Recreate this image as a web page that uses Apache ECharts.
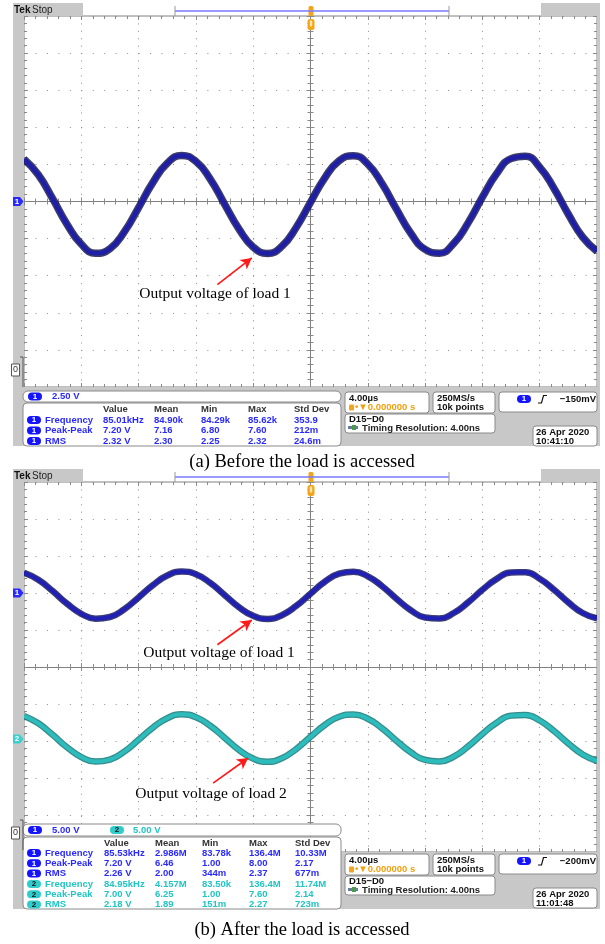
<!DOCTYPE html>
<html><head><meta charset="utf-8">
<script src="https://cdn.jsdelivr.net/npm/echarts@6/dist/echarts.min.js"></script>
<style>html,body{margin:0;padding:0;background:#fff}#c{width:605px;height:944px}</style>
</head><body><div id="c"></div>
<script>
// ---------------- data ----------------
const timeUs = [-20,-19,-18,-17,-16,-15,-14,-13,-12,-11,-10,-9,-8,-7,-6,-5,-4,-3,-2,-1,0,1,2,3,4,5,6,7,8,9,10,11,12,13,14,15,16,17,18,19,20];
// (a) before load: channel 1, volts (2.50 V/div)
const beforeLoad1 = [2.85,1.80,0.19,-1.53,-2.88,-3.49,-3.18,-2.05,-0.41,1.29,2.58,3.10,2.70,1.51,-0.17,-1.84,-3.07,-3.50,-3.02,-1.75,-0.06,1.60,2.75,3.09,2.52,1.19,-0.52,-2.14,-3.23,-3.48,-2.82,-1.44,0.29,1.88,2.89,3.05,2.31,0.88,-0.86,-2.40,-3.35];
// (b) after load: channel 1 and channel 2, volts (5.00 V/div)
const afterLoad1 = [2.73,1.79,0.26,-1.44,-2.81,-3.47,-3.24,-2.19,-0.60,1.07,2.36,2.90,2.53,1.37,-0.26,-1.90,-3.09,-3.50,-3.00,-1.75,-0.09,1.52,2.61,2.88,2.26,0.92,-0.77,-2.32,-3.31,-3.44,-2.70,-1.27,0.43,1.91,2.78,2.79,1.92,0.43,-1.27,-2.70,-3.44];
const afterLoad2 = [3.39,2.39,0.83,-0.84,-2.17,-2.78,-2.51,-1.43,0.16,1.82,3.08,3.60,3.22,2.06,0.44,-1.19,-2.38,-2.80,-2.33,-1.09,0.56,2.16,3.28,3.59,3.01,1.71,0.04,-1.53,-2.56,-2.77,-2.10,-0.73,0.95,2.48,3.43,3.53,2.77,1.34,-0.34,-1.82,-2.68];

const measHeader = ['Value','Mean','Min','Max','Std Dev'];
const measLabels = ['Frequency','Peak-Peak','RMS'];
const measA1 = [['85.01kHz','84.90k','84.29k','85.62k','353.9'],['7.20 V','7.16','6.80','7.60','212m'],['2.32 V','2.30','2.25','2.32','24.6m']];
const measB1 = [['85.53kHz','2.986M','83.78k','136.4M','10.33M'],['7.20 V','6.46','1.00','8.00','2.17'],['2.26 V','2.00','344m','2.37','677m']];
const measB2 = [['84.95kHz','4.157M','83.50k','136.4M','11.74M'],['7.00 V','6.25','1.00','7.60','2.14'],['2.18 V','1.89','151m','2.27','723m']];
const scaleA = ['2.50 V'];
const scaleB = ['5.00 V','5.00 V'];
const timebase = '4.00\u00b5s';
const sampleRate = ['250MS/s','10k points'];
const trigA = '\u2212150mV', trigB = '\u2212200mV';
const dateA = ['26 Apr 2020','10:41:10'];
const dateB = ['26 Apr 2020','11:01:48'];
const captionA = '(a) Before the load is accessed';
const captionB = '(b) After the load is accessed';
const noteLoad1 = 'Output voltage of load 1';
const noteLoad2 = 'Output voltage of load 2';

// ---------------- styles ----------------
const C1 = '#2a2aff', C2 = '#22c4c4', GRAY = '#c8c8c8', TICK = '#8a8a8a', FRAME = '#808080', DOT = '#8c8c8c';
const PA = {left:24, top:16, width:573, height:371};
const PB = {left:24, top:482, width:573, height:370};

const zip = (xs, ys) => xs.map((x,i)=>[x, ys[i]]);

function makeGrid(p, border){
  return {left:p.left, top:p.top, width:p.width, height:p.height, containLabel:false,
    show:border, borderColor:FRAME, borderWidth:1, backgroundColor: border ? '#fff' : 'transparent'};
}
function axis(kind, gridIndex, min, max, interval, isX){
  const ax = {type:'value', gridIndex, min, max, interval,
    axisLabel:{show:false}, splitLine:{show:false},
    axisTick:{show:true, length:4, lineStyle:{color:TICK, width:1}},
    minorTick:{show:true, splitNumber:5, length:3, lineStyle:{color:TICK, width:1}},
    axisLine:{show:false, onZero:false}};
  if (kind === 'edge1'){
    ax.position = isX ? 'bottom' : 'left';
    ax.axisTick.inside = true; ax.minorTick.inside = true;
    ax.splitLine = {show:true, lineStyle:{color:DOT, width:1, type: isX ? [1,6.42] : [1,10.46]}};
  } else if (kind === 'edge2'){
    ax.position = isX ? 'top' : 'right';
    ax.axisTick.inside = true;
  } else if (kind === 'cen1'){
    ax.position = isX ? 'bottom' : 'left';
    ax.axisLine = {show:true, onZero:true, lineStyle:{color:FRAME, width:1}};
    ax.axisTick.inside = false;
  } else {
    ax.position = isX ? 'top' : 'right';
    ax.axisLine = {show:true, onZero:true, lineStyle:{color:FRAME, width:1}};
    ax.axisTick.inside = false;
  }
  return ax;
}
const kinds = ['edge1','edge2','cen1','cen2'];
const grids = [], xAxes = [], yAxes = [];
kinds.forEach((k,i)=>{ grids.push(makeGrid(PA, i===0)); xAxes.push(axis(k,i,-20,20,4,true)); yAxes.push(axis(k,i,-12.5,12.5,2.5,false)); });
const yRangesB = [[-15,35],[-35,15],[-25,25],[-25,25]];
kinds.forEach((k,i)=>{ grids.push(makeGrid(PB, i===0)); xAxes.push(axis(k,4+i,-20,20,4,true)); yAxes.push(axis(k,4+i,yRangesB[i][0],yRangesB[i][1],5,false)); });

function trace(name, data, axisIdx, outer, inner, wOuter, wInner, arrow){
  const base = {type:'line', xAxisIndex:axisIdx, yAxisIndex:axisIdx, symbol:'none', smooth:0.5, animation:false, silent:true, clip:true};
  const s1 = Object.assign({}, base, {name:name+'-edge', data, z:3, lineStyle:{color:outer, width:wOuter}});
  const s2 = Object.assign({}, base, {name, data, z:4, lineStyle:{color:inner, width:wInner}});
  if (arrow){
    s2.markLine = {silent:true, animation:false, symbol:['none','arrow'], symbolSize:[9,11],
      label:{show:false}, lineStyle:{color:'#ff1a1a', width:1.7, type:'solid'},
      data:[[{coord:arrow[0]},{coord:arrow[1]}]]};
  }
  return [s1, s2];
}
const series = [].concat(
  trace('CH1 before', zip(timeUs, beforeLoad1), 0, 'rgba(12,12,70,0.8)', '#1e1ea6', 7.5, 4.5, [[-6.5,-5.6],[-4.1,-3.8]]),
  trace('CH2 after', zip(timeUs, afterLoad2), 4, 'rgba(20,120,120,0.85)', '#2dbcbc', 6.5, 4, [[-6.8,-5.7],[-4.35,-2.3]]),
  trace('CH1 after', zip(timeUs, afterLoad1), 5, 'rgba(12,12,80,0.8)', '#2020b4', 6.5, 4, [[-6.5,-7.0],[-4.1,-3.65]])
);

// ---------------- overlay graphics ----------------
const G = [];
const FM = '"Liberation Sans", Arial, sans-serif';
function R(x,y,w,h,fill,stroke,r){ G.push({type:'rect', z:100, silent:true, shape:{x,y,width:w,height:h,r:r||0}, style:{fill:fill||'none', stroke:stroke||null, lineWidth:1}}); }
function L(x1,y1,x2,y2,color,w){ G.push({type:'line', z:101, silent:true, shape:{x1,y1,x2,y2}, style:{stroke:color, lineWidth:w||1}}); }
function T(x,y,text,fill,font,align){ G.push({type:'text', z:102, silent:true, x, y, style:{text, fill, font, align:align||'left', verticalAlign:'middle', textAlign:align||'left', textVerticalAlign:'middle'}}); }
function oval(x,y,n,fill,tcol){ R(x,y-4,14,8,fill,null,4); T(x+7,y,n,tcol,'bold 8px '+FM,'center'); }
function chMarker(y,n,fill){ G.push({type:'polygon', z:101, silent:true, shape:{points:[[13,y-4.5],[20,y-4.5],[23.5,y],[20,y+4.5],[13,y+4.5]]}, style:{fill}}); T(17,y,n,'#fff','bold 8px '+FM,'center'); }
function groundMark(y){ L(23,y-13,23,y+17,'#555',1); L(20,y-13,23,y-13,'#555',1); R(11.5,y-6,8,12,'#fff','#555'); T(15.5,y,'0','#333','9px '+FM,'center'); }

function topBar(y0){
  R(13,y0,70,13,GRAY); T(14,y0+7,'Tek','#111','bold 10px '+FM); T(32,y0+7,'Stop','#222','10px '+FM);
  R(541,y0,59,13,GRAY);
  L(175,y0+8,449,y0+8,'#7a7aff',1.3); L(175,y0+3,175,y0+13,'#999',1); L(449,y0+3,449,y0+13,'#999',1);
  R(308.5,y0+3,5,10,'#f2a51a',null,1.5);
  R(307.5,y0+16,7,11,'#f2a51a',null,2.5); R(309.8,y0+17.5,2.4,6,'#fde8b0',null,1);
}
const MF = 'bold 9.5px '+FM;
function measTable(boxY, boxH, rows, colX, header){
  R(23,boxY,318,boxH,'#fff','#8a8a8a',4);
  measHeader.forEach((h,i)=>T(colX[i],header,h,'#333',MF));
}
function rightBoxes(y0, trig, date){
  const BF = 'bold 9.5px '+FM;
  R(345,y0,84,21,'#fff','#8a8a8a',3); T(349,y0+6,timebase,'#111',BF);
  R(349,y0+12.5,5,6,'#f2a51a',null,1); T(355,y0+15.5,'\u2022\u25bc0.000000 s','#f0a010',BF);
  R(433,y0,62,21,'#fff','#8a8a8a',3); T(437,y0+6,sampleRate[0],'#111',BF); T(437,y0+15.5,sampleRate[1],'#111',BF);
  R(499,y0,98,20,'#fff','#8a8a8a',3); oval(517,y0+7,'1','#1414ff','#fff');
  G.push({type:'polyline', z:101, silent:true, shape:{points:[[538,y0+11],[541.5,y0+11],[543.5,y0+3.5],[547,y0+3.5]]}, style:{stroke:'#111', lineWidth:1.2, fill:null}});
  T(596,y0+7,trig,'#111',BF,'right');
  R(345,y0+22,150,19,'#fff','#8a8a8a',3); T(349,y0+27,'D15\u2212D0','#111',BF);
  R(348,y0+34,10,3,'#6a7aa0'); R(352,y0+33,4,5,'#4a9a4a');
  T(362,y0+36,'Timing Resolution: 4.00ns','#222',BF);
}
function dateBox(y0, d){ const BF='bold 9.5px '+FM; R(533,y0,64,20,'#fff','#8a8a8a',3); T(536,y0+6,d[0],'#111',BF); T(536,y0+15,d[1],'#111',BF); }

// ---- panel (a)
R(13,16,11,430,GRAY); R(597,16,3,430,GRAY); R(13,387,587,59,GRAY);
topBar(3);
chMarker(201.5,'1','#2a2aff');
groundMark(370);
R(23,391,318,11,'#fff','#8a8a8a',5); oval(28,396.5,'1','#1414ff','#fff'); T(52,396.5,scaleA[0],C1,MF);
const colA = [103,154,201,248,294];
measTable(403,43,measA1,colA,409);
measA1.forEach((row,r)=>{ const y=420+r*10.5; oval(27,y,'1','#1414ff','#fff'); T(45,y,measLabels[r],C1,MF); row.forEach((v,i)=>T(colA[i],y,v,C1,MF)); });
rightBoxes(392, trigA, dateA);
dateBox(426, dateA);
T(302,462,captionA,'#000','18.5px "Liberation Serif", "Times New Roman", serif','center');
T(215,294,noteLoad1,'#000','15.5px "Liberation Serif", "Times New Roman", serif','center');

// ---- panel (b)
R(13,482,11,427,GRAY); R(597,482,3,427,GRAY); R(13,852,587,57,GRAY);
topBar(469);
chMarker(593,'1','#2a2aff');
chMarker(739,'2','#3cd0d0');
groundMark(833);
R(23,824,318,12,'#fff','#8a8a8a',5);
oval(28,830,'1','#1414ff','#fff'); T(52,830,scaleB[0],C1,MF);
oval(110,830,'2','#30cccc','#111'); T(133,830,scaleB[1],C2,MF);
const colB = [104,155,202,249,295];
measTable(837,72,measB1,colB,843);
measB1.forEach((row,r)=>{ const y=853+r*10.3; oval(27,y,'1','#1414ff','#fff'); T(45,y,measLabels[r],C1,MF); row.forEach((v,i)=>T(colB[i],y,v,C1,MF)); });
measB2.forEach((row,r)=>{ const y=884+r*10.3; oval(27,y,'2','#30cccc','#111'); T(45,y,measLabels[r],C2,MF); row.forEach((v,i)=>T(colB[i],y,v,C2,MF)); });
rightBoxes(854, trigB, dateB);
dateBox(888, dateB);
T(302,930,captionB,'#000','18.5px "Liberation Serif", "Times New Roman", serif','center');
T(219,653,noteLoad1,'#000','15.5px "Liberation Serif", "Times New Roman", serif','center');
T(211,794,noteLoad2,'#000','15.5px "Liberation Serif", "Times New Roman", serif','center');

const chart = echarts.init(document.getElementById('c'), null, {renderer:'canvas'});
chart.setOption({
  backgroundColor:'#fff', animation:false,
  grid: grids, xAxis: xAxes, yAxis: yAxes, series,
  graphic: {elements: G}
});
</script></body></html>
